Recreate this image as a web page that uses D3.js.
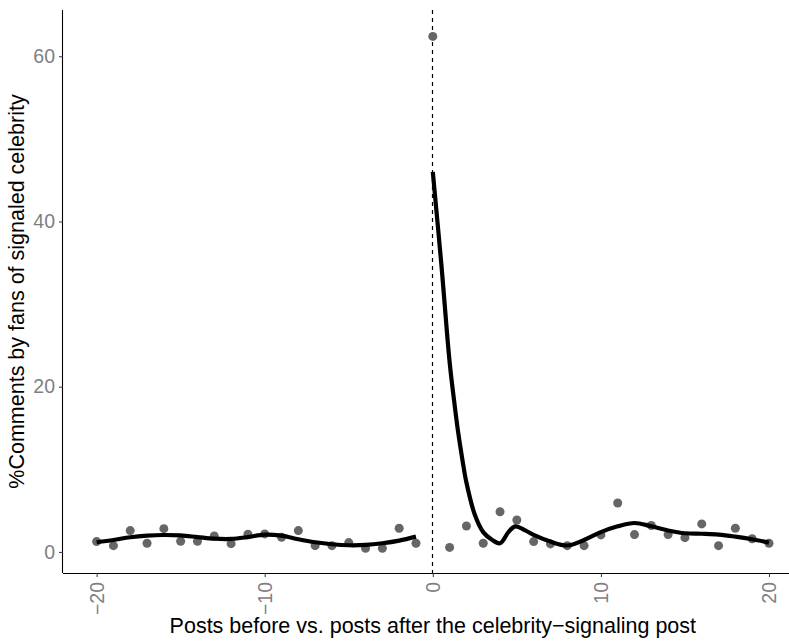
<!DOCTYPE html>
<html><head><meta charset="utf-8">
<script src="https://cdn.jsdelivr.net/npm/d3@7"></script>
<style>body{margin:0;background:#fff}svg{display:block}text{font-family:"Liberation Sans",Arial,sans-serif}</style>
</head><body><svg id="c" width="789" height="641"></svg>
<script>
const postsX = [-20,-19,-18,-17,-16,-15,-14,-13,-12,-11,-10,-9,-8,-7,-6,-5,-4,-3,-2,-1,0,1,2,3,4,5,6,7,8,9,10,11,12,13,14,15,16,17,18,19,20];
const pctComments = [1.25,0.76,2.58,1.05,2.82,1.3,1.3,1.93,1.0,2.14,2.18,1.77,2.58,0.76,0.76,1.13,0.44,0.44,2.86,1.05,62.4,0.55,3.14,1.05,4.87,3.87,1.25,0.97,0.76,0.76,2.06,5.93,2.1,3.2,2.1,1.73,3.39,0.76,2.86,1.6,1.05];
const smoothBeforeX = [-20,-19,-18,-17,-16,-15,-14,-13,-12,-11,-10,-9,-8,-7,-6,-5,-4,-3,-2,-1];
const smoothBeforeY = [1.17,1.45,1.78,1.97,2.05,2.0,1.8,1.6,1.57,1.8,2.1,1.97,1.53,1.17,0.93,0.81,0.85,1.05,1.37,1.85];
const smoothAfterX = [0,0.5,1,1.25,1.5,1.75,2,2.5,3,3.5,4,4.5,4.9,5.5,6,7,8,9,10,11,12,13,14,15,16,17,18,19,20];
const smoothAfterY = [46.0,35.0,23.0,18.6,14.6,11.3,8.4,4.5,2.4,1.5,1.05,2.4,3.1,2.6,2.06,1.25,0.78,1.45,2.4,3.1,3.5,3.1,2.6,2.26,2.2,2.1,1.85,1.53,1.13];
const xTicks = [-20,-10,0,10,20];
const yTicks = [0,20,40,60];
const xTitle = "Posts before vs. posts after the celebrity\u2212signaling post";
const yTitle = "%Comments by fans of signaled celebrity";

const svg = d3.select("#c");
const pLeft = 63, pRight = 802.6, pTop = 10, pBottom = 573;
const x = d3.scaleLinear().domain([-22,22]).range([pLeft,pRight]);
const y = d3.scaleLinear().domain([-2.55,65.6]).range([pBottom,pTop]);
const fmt = d => String(d).replace("-", "\u2212");

// dashed vline
const vx = Math.round(x(0)) - 0.5;
svg.append("line").attr("x1",vx).attr("x2",vx).attr("y1",pTop).attr("y2",pBottom)
  .attr("stroke","#000").attr("stroke-width",1.2).attr("stroke-dasharray","4,4");

// points
svg.append("g").selectAll("circle").data(postsX).join("circle")
  .attr("cx",d=>x(d)).attr("cy",(d,i)=>y(pctComments[i])).attr("r",4.5).attr("fill","#666666");

// smooth lines
const line = d3.line().x(d=>x(d[0])).y(d=>y(d[1])).curve(d3.curveCatmullRom.alpha(0.5));
svg.append("path").datum(smoothBeforeX.map((v,i)=>[v,smoothBeforeY[i]])).attr("d",line)
  .attr("fill","none").attr("stroke","#000").attr("stroke-width",4.2).attr("stroke-linecap","butt");
svg.append("path").datum(smoothAfterX.map((v,i)=>[v,smoothAfterY[i]])).attr("d",line)
  .attr("fill","none").attr("stroke","#000").attr("stroke-width",4.2).attr("stroke-linecap","butt").attr("stroke-linejoin","round");

// axes
const xa = svg.append("g").attr("transform",`translate(0,${pBottom})`)
  .call(d3.axisBottom(x).tickValues(xTicks).tickSize(4).tickPadding(6).tickFormat(fmt));
xa.select(".domain").attr("d",`M${pLeft},0.5H${789}`).attr("stroke","#000").attr("stroke-width",1.1);
xa.selectAll(".tick line").attr("stroke","#333");
xa.selectAll(".tick text").attr("fill","#7f7f7f").attr("font-size",19.5)
  .attr("transform","rotate(-90)").attr("text-anchor","end").attr("dy","0.35em").attr("x",-9).attr("y",0);

const ya = svg.append("g").attr("transform",`translate(${pLeft},0)`)
  .call(d3.axisLeft(y).tickValues(yTicks).tickSize(4).tickPadding(4).tickFormat(fmt));
ya.select(".domain").attr("d",`M-0.5,${pTop}V${pBottom}`).attr("stroke","#000").attr("stroke-width",1.1);
ya.selectAll(".tick line").attr("stroke","#333");
ya.selectAll(".tick text").attr("fill","#7f7f7f").attr("font-size",19.5);

svg.append("text").attr("x",(pLeft+pRight)/2).attr("y",633).attr("text-anchor","middle").attr("font-size",21.5).attr("fill","#000").text(xTitle);
svg.append("text").attr("transform",`translate(24,${(pTop+pBottom)/2}) rotate(-90)`).attr("text-anchor","middle").attr("font-size",21.5).attr("fill","#000").text(yTitle);
</script></body></html>
